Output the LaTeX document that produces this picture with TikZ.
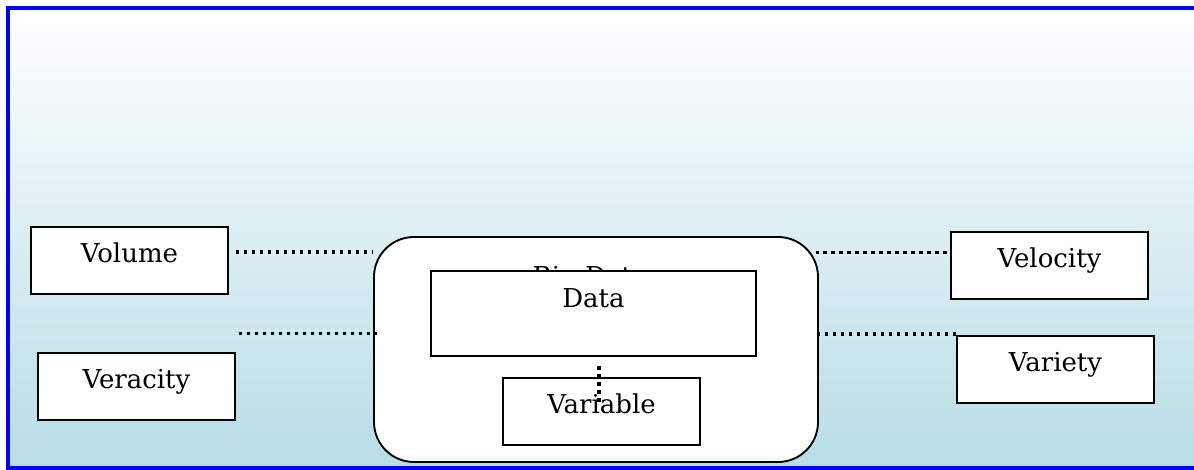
\documentclass[tikz,border=0pt]{standalone}
\usepackage{fontspec}
\setmainfont{DejaVu Serif}
\usetikzlibrary{positioning}

\definecolor{frameblue}{RGB}{0,0,255}
\definecolor{skyblue}{RGB}{183,221,230}

\begin{document}
\begin{tikzpicture}[x=0.75pt, y=-0.75pt,
    box/.style={draw, line width=1.4pt, fill=white, inner xsep=0pt, inner ysep=0pt,
        minimum width=147.75pt, text height=26.5pt, text depth=23.75pt,
        font=\fontsize{19.5}{23}\selectfont},
    dotline/.style={line width=2.5pt, dash pattern=on 2.6pt off 3.4pt}]

        \useasboundingbox (0,0) rectangle (1194,470);

        %% BACKGROUND
        \shade[top color=white, bottom color=skyblue] (8,8) rectangle (1194,468);
        \draw[frameblue, line width=3pt] (1194,8) -- (8,8) -- (8,468) -- (1194,468);

        %% NODES
        \node[box] (volume) at (129.5,260.5) {Volume};
        \node[box] (veracity) at (136.5,386.5) {Veracity};
        \node[box] (velocity) at (1049.5,265.5) {Velocity};
        \node[box] (variety) at (1055.5,369.5) {Variety};

        % the big rounded block in the middle
        \node[draw, line width=1.4pt, fill=white, rounded corners=30pt,
            minimum width=333pt, minimum height=168.75pt] (bigdata) at (596,349.5) {};
        \node[anchor=base west, font=\fontsize{19.5}{23}\selectfont] (bigtitle) at (528,285) {Big Data};
        \node[box, minimum width=243.75pt, text height=27pt, text depth=36.75pt] (data) at (593.5,313.5) {Data};
        \node[box] (variable) at (601.5,411.5) {Variable};

        %% LINKS
        \draw[dotline] ([shift={(5pt,6.4pt)}]volume.east) coordinate (a1) -- (a1 -| bigdata.west);
        \draw[dotline] ([shift={(2pt,14pt)}]veracity.north east) coordinate (a2) -- ([xshift=3pt]a2 -| bigdata.west);
        \draw[dotline] ([shift={(-2.5pt,10pt)}]velocity.west) coordinate (a3) -- ([xshift=-2pt]a3 -| bigdata.east);
        \draw[dotline] ([yshift=0.75pt]variety.north west) coordinate (a4) -- (a4 -| bigdata.east);
        \draw[dotline] ([shift={(-2pt,-7pt)}]data.south -| variable.north) -- ++(0,38);

\end{tikzpicture}
\end{document}
